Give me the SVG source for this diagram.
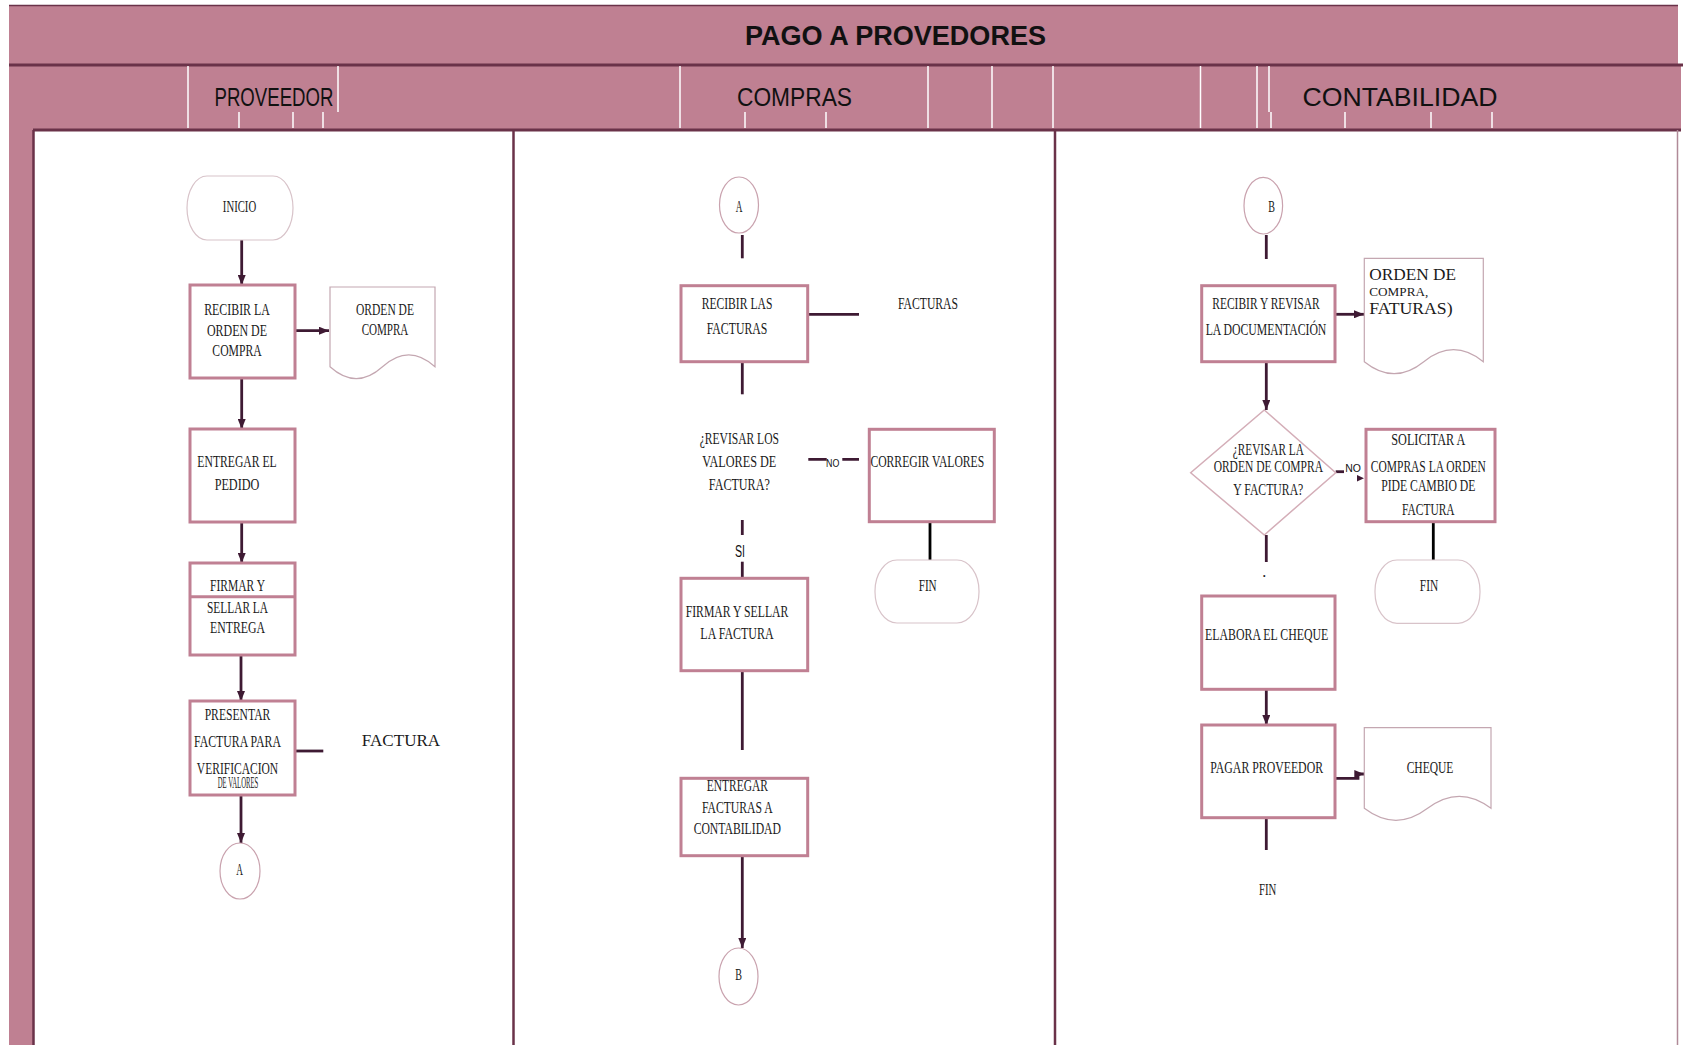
<svg xmlns="http://www.w3.org/2000/svg" width="1684" height="1045" viewBox="0 0 1684 1045">
<style>
.band{fill:#BF8092}
.dk{stroke:#6A3249;fill:none}
.tick{stroke:#fff;stroke-width:1.5}
.proc{fill:#fff;stroke:#C08093;stroke-width:3}
.term{fill:#fff;stroke:#D8C3C9;stroke-width:1.2}
.conn-c{fill:#fff;stroke:#C9A2AE;stroke-width:1.2}
.doc{fill:#fff;stroke:#C4A7B1;stroke-width:1.2}
.dia{fill:#fff;stroke:#D4AEB8;stroke-width:1.5}
.c{fill:none;stroke:#3E1A33;stroke-width:2.8}
.cb{fill:none;stroke:#000;stroke-width:2.8}
.t{font-family:"Liberation Serif","Times New Roman",serif;font-size:16px;fill:#1a1a1a;text-anchor:middle}
.ts{font-family:"Liberation Serif","Times New Roman",serif;fill:#1a1a1a;text-anchor:start}
.s{font-family:"Liberation Sans",Arial,sans-serif;fill:#111;text-anchor:middle}
</style>
<defs>
<marker id="ah" viewBox="0 0 10 8" refX="10" refY="4" markerWidth="10" markerHeight="8" markerUnits="userSpaceOnUse" orient="auto">
<path d="M0,0 L10,4 L0,8 z" fill="#3E1A33"/>
</marker>
</defs>
<rect width="1684" height="1045" fill="#fff"/>
<g id="header">
<rect class="band" x="9" y="5" width="1669" height="60"/>
<rect class="band" x="9" y="65" width="1672" height="65"/>
<rect class="band" x="9" y="130" width="24" height="915"/>
<line class="dk" x1="9" y1="5.5" x2="1678" y2="5.5" stroke-width="1.5"/>
<line class="dk" x1="9" y1="65" x2="1683" y2="65" stroke-width="3"/>
<line class="dk" x1="33" y1="130" x2="1681" y2="130" stroke-width="3"/>
<line class="dk" x1="33.5" y1="130" x2="33.5" y2="1045" stroke-width="2.5"/>
<line class="dk" x1="513.5" y1="130" x2="513.5" y2="1045" stroke-width="2.5"/>
<line class="dk" x1="1055" y1="130" x2="1055" y2="1045" stroke-width="2.5"/>
<line x1="1677.5" y1="130" x2="1677.5" y2="1045" stroke="#B08A98" stroke-width="1.5"/>
<g class="tick">
<line x1="188" y1="66" x2="188" y2="128"/><line x1="680" y1="66" x2="680" y2="128"/>
<line x1="928" y1="66" x2="928" y2="128"/><line x1="992" y1="66" x2="992" y2="128"/>
<line x1="1053" y1="66" x2="1053" y2="128"/><line x1="1200.5" y1="66" x2="1200.5" y2="128"/>
<line x1="1257" y1="66" x2="1257" y2="128"/>
<line x1="338" y1="66" x2="338" y2="112"/><line x1="1269" y1="66" x2="1269" y2="112"/>
<line x1="239" y1="112" x2="239" y2="128"/><line x1="293" y1="112" x2="293" y2="128"/>
<line x1="323" y1="112" x2="323" y2="128"/><line x1="745" y1="112" x2="745" y2="128"/>
<line x1="826" y1="112" x2="826" y2="128"/><line x1="1271" y1="112" x2="1271" y2="128"/>
<line x1="1345" y1="112" x2="1345" y2="128"/><line x1="1431" y1="112" x2="1431" y2="128"/>
<line x1="1492" y1="112" x2="1492" y2="128"/>
</g>
<text class="s" x="895.5" y="45" font-size="27" font-weight="bold" textLength="301" lengthAdjust="spacingAndGlyphs">PAGO A PROVEDORES</text>
<text class="s" x="274" y="106" font-size="26" textLength="119" lengthAdjust="spacingAndGlyphs">PROVEEDOR</text>
<text class="s" x="794.5" y="106" font-size="26" textLength="115" lengthAdjust="spacingAndGlyphs">COMPRAS</text>
<text class="s" x="1400" y="106" font-size="26.5" textLength="195" lengthAdjust="spacingAndGlyphs">CONTABILIDAD</text>
</g>

<g id="connectors">
<path class="c" d="M241.7,235 V285" marker-end="url(#ah)"/>
<path class="c" d="M295,330.7 H329" marker-end="url(#ah)"/>
<path class="c" d="M241.7,378 V429" marker-end="url(#ah)"/>
<path class="c" d="M241.7,522 V563" marker-end="url(#ah)"/>
<path class="c" d="M241,655 V701" marker-end="url(#ah)"/>
<path class="c" d="M295,751 H323.3"/>
<path class="c" d="M241,795 V843" marker-end="url(#ah)"/>
<path class="c" d="M742.3,235 V258.3"/>
<path class="c" d="M807.7,314.3 H859"/>
<path class="c" d="M742.3,361.7 V394.3"/>
<path class="c" d="M808.3,459.3 H826.7 M842.3,459.3 H859"/>
<path class="cb" d="M930,521.7 V561.7"/>
<path class="c" d="M742.3,520 V535"/>
<path class="c" d="M742.3,561.7 V578.3"/>
<path class="c" d="M742.3,670.7 V750"/>
<path class="c" d="M742.3,855.7 V948" marker-end="url(#ah)"/>
<path class="c" d="M1266.3,235 V259"/>
<path class="c" d="M1335,314.3 H1364" marker-end="url(#ah)"/>
<path class="c" d="M1266.3,361.7 V410" marker-end="url(#ah)"/>
<path class="c" d="M1335.7,471.7 H1344" stroke-width="1.5"/>
<path d="M1357,475 L1364,478.3 L1357,481.5 z" fill="#3E1A33"/>
<path class="cb" d="M1433.3,521.7 V561"/>
<path class="c" d="M1266.3,535 V562"/>
<path class="c" d="M1266.3,689.3 V725" marker-end="url(#ah)"/>
<path class="c" d="M1335,778.3 H1358 V774 H1364.3" marker-end="url(#ah)"/>
<path class="c" d="M1266.3,817.7 V850"/>
<text class="s" x="832.7" y="467" font-size="11" textLength="13.3" lengthAdjust="spacingAndGlyphs">NO</text>
<text class="s" x="740" y="557.3" font-size="16" textLength="10" lengthAdjust="spacingAndGlyphs">SI</text>
<text class="s" x="1353" y="471.7" font-size="11" textLength="15.7" lengthAdjust="spacingAndGlyphs">NO</text>
</g>

<g id="inicio">
<rect class="term" x="187" y="176" width="106" height="64" rx="20" ry="32" stroke="#B8949F"/>
<text class="t" x="239.5" y="211.7" font-size="15" textLength="33.3" lengthAdjust="spacingAndGlyphs">INICIO</text>
</g>
<g id="recibir-orden">
<rect class="proc" x="190" y="285" width="105" height="93"/>
<text class="t" x="237" y="315" textLength="65.7" lengthAdjust="spacingAndGlyphs">RECIBIR LA</text>
<text class="t" x="237" y="335.5" textLength="60" lengthAdjust="spacingAndGlyphs">ORDEN DE</text>
<text class="t" x="237" y="356" textLength="49.3" lengthAdjust="spacingAndGlyphs">COMPRA</text>
</g>
<g id="doc-orden-compra">
<path class="doc" d="M330,287 H435 V366.7 Q408.75,343 382.5,366.7 T330,366.7 Z"/>
<text class="t" x="385" y="315" textLength="58" lengthAdjust="spacingAndGlyphs">ORDEN DE</text>
<text class="t" x="385" y="335" textLength="46.7" lengthAdjust="spacingAndGlyphs">COMPRA</text>
</g>
<g id="entregar-pedido">
<rect class="proc" x="190" y="429" width="105" height="93"/>
<text class="t" x="237" y="467" textLength="79.3" lengthAdjust="spacingAndGlyphs">ENTREGAR EL</text>
<text class="t" x="237" y="490" textLength="44.7" lengthAdjust="spacingAndGlyphs">PEDIDO</text>
</g>
<g id="firmar-entrega">
<rect class="proc" x="190" y="563" width="105" height="92"/>
<line x1="190" y1="596.7" x2="295" y2="596.7" stroke="#C08093" stroke-width="3"/>
<text class="t" x="237.5" y="590.7" textLength="55" lengthAdjust="spacingAndGlyphs">FIRMAR Y</text>
<text class="t" x="237.5" y="612.7" textLength="61" lengthAdjust="spacingAndGlyphs">SELLAR LA</text>
<text class="t" x="237.5" y="632.7" textLength="55" lengthAdjust="spacingAndGlyphs">ENTREGA</text>
</g>
<g id="presentar-factura">
<rect class="proc" x="190" y="701" width="105" height="94"/>
<text class="t" x="237.5" y="720" textLength="65.7" lengthAdjust="spacingAndGlyphs">PRESENTAR</text>
<text class="t" x="237.5" y="746.7" textLength="87" lengthAdjust="spacingAndGlyphs">FACTURA PARA</text>
<text class="t" x="237.5" y="773.5" textLength="81.3" lengthAdjust="spacingAndGlyphs">VERIFICACION</text>
<text class="t" x="238" y="788" font-size="6" textLength="40.7" lengthAdjust="spacingAndGlyphs">DE VALORES</text>
</g>
<g id="factura-label">
<text class="t" x="401" y="746" font-size="19" textLength="78.3" lengthAdjust="spacingAndGlyphs">FACTURA</text>
</g>
<g id="conector-a-out">
<ellipse class="conn-c" cx="240" cy="871" rx="20" ry="28"/>
<text class="t" x="239.5" y="875" font-size="13" textLength="6.7" lengthAdjust="spacingAndGlyphs">A</text>
</g>

<g id="conector-a-in">
<ellipse class="conn-c" cx="739" cy="205" rx="19.5" ry="28"/>
<text class="t" x="739" y="211.7" font-size="13" textLength="6.7" lengthAdjust="spacingAndGlyphs">A</text>
</g>
<g id="recibir-facturas">
<rect class="proc" x="681" y="285.7" width="126.7" height="76"/>
<text class="t" x="737" y="309" textLength="70.7" lengthAdjust="spacingAndGlyphs">RECIBIR LAS</text>
<text class="t" x="737" y="334.3" textLength="60.7" lengthAdjust="spacingAndGlyphs">FACTURAS</text>
</g>
<g id="facturas-label">
<text class="t" x="928" y="309" textLength="60" lengthAdjust="spacingAndGlyphs">FACTURAS</text>
</g>
<g id="decision-valores">
<text class="t" x="739.3" y="444" textLength="79.3" lengthAdjust="spacingAndGlyphs">¿REVISAR LOS</text>
<text class="t" x="739.3" y="466.7" textLength="74" lengthAdjust="spacingAndGlyphs">VALORES DE</text>
<text class="t" x="739.3" y="490" textLength="61" lengthAdjust="spacingAndGlyphs">FACTURA?</text>
</g>
<g id="corregir-valores">
<rect class="proc" x="869.3" y="429.3" width="125" height="92.4"/>
<text class="t" x="927.3" y="466.7" textLength="113.7" lengthAdjust="spacingAndGlyphs">CORREGIR VALORES</text>
</g>
<g id="fin-compras">
<rect class="term" x="875" y="560" width="104" height="63" rx="22" ry="31" stroke="#E3D3D7"/>
<text class="t" x="927.7" y="590.7" font-size="15" textLength="18" lengthAdjust="spacingAndGlyphs">FIN</text>
</g>
<g id="firmar-factura">
<rect class="proc" x="681" y="578.3" width="126.7" height="92.4"/>
<text class="t" x="737" y="617.3" textLength="102.7" lengthAdjust="spacingAndGlyphs">FIRMAR Y SELLAR</text>
<text class="t" x="737" y="639.3" textLength="73.3" lengthAdjust="spacingAndGlyphs">LA FACTURA</text>
</g>
<g id="entregar-contabilidad">
<rect class="proc" x="681" y="778.3" width="126.7" height="77.4"/>
<text class="t" x="737.3" y="790.7" textLength="61" lengthAdjust="spacingAndGlyphs">ENTREGAR</text>
<text class="t" x="737.3" y="812.7" textLength="70.7" lengthAdjust="spacingAndGlyphs">FACTURAS A</text>
<text class="t" x="737.3" y="834" textLength="87.3" lengthAdjust="spacingAndGlyphs">CONTABILIDAD</text>
</g>
<g id="conector-b-out">
<ellipse class="conn-c" cx="738.5" cy="976.5" rx="19.5" ry="28.5"/>
<text class="t" x="738.5" y="980" font-size="13" textLength="6.7" lengthAdjust="spacingAndGlyphs">B</text>
</g>

<g id="conector-b-in">
<ellipse class="conn-c" cx="1263.3" cy="205.7" rx="19.3" ry="28.3"/>
<text class="t" x="1271.7" y="211.7" font-size="13" textLength="6.7" lengthAdjust="spacingAndGlyphs">B</text>
</g>
<g id="recibir-documentacion">
<rect class="proc" x="1201.7" y="285.7" width="133.3" height="76"/>
<text class="t" x="1266" y="309" textLength="107.3" lengthAdjust="spacingAndGlyphs">RECIBIR Y REVISAR</text>
<text class="t" x="1266" y="335" textLength="120.7" lengthAdjust="spacingAndGlyphs">LA DOCUMENTACIÓN</text>
</g>
<g id="doc-orden-facturas">
<path class="doc" d="M1364.3,258.3 H1483.3 V361.7 Q1453.5,337.7 1423.8,361.7 T1364.3,361.7 Z"/>
<text class="ts" x="1369.3" y="280" font-size="17" textLength="86.7" lengthAdjust="spacingAndGlyphs">ORDEN DE</text>
<text class="ts" x="1369.3" y="295.7" font-size="12" textLength="59" lengthAdjust="spacingAndGlyphs">COMPRA,</text>
<text class="ts" x="1369.3" y="314" font-size="17" textLength="83.3" lengthAdjust="spacingAndGlyphs">FATURAS)</text>
</g>
<g id="decision-orden">
<path class="dia" d="M1264.3,410 L1335.7,472.7 L1264.3,535 L1190.7,472.7 Z"/>
<text class="t" x="1268.3" y="455" font-size="14" textLength="71" lengthAdjust="spacingAndGlyphs">¿REVISAR LA</text>
<text class="t" x="1268.3" y="471.7" font-size="14" textLength="109.3" lengthAdjust="spacingAndGlyphs">ORDEN DE COMPRA</text>
<text class="t" x="1268.3" y="495" font-size="14" textLength="70" lengthAdjust="spacingAndGlyphs">Y FACTURA?</text>
</g>
<g id="solicitar-compras">
<rect class="proc" x="1366" y="429.3" width="129" height="92.4"/>
<text class="t" x="1428.3" y="445" textLength="74" lengthAdjust="spacingAndGlyphs">SOLICITAR A</text>
<text class="t" x="1428.3" y="471.7" textLength="115" lengthAdjust="spacingAndGlyphs">COMPRAS LA ORDEN</text>
<text class="t" x="1428.3" y="491" textLength="94.3" lengthAdjust="spacingAndGlyphs">PIDE CAMBIO DE</text>
<text class="t" x="1428.3" y="515" textLength="52.7" lengthAdjust="spacingAndGlyphs">FACTURA</text>
</g>
<g id="fin-contabilidad-no">
<rect class="term" x="1375" y="560" width="105" height="63.3" rx="22" ry="31" stroke="#E3D3D7"/>
<text class="t" x="1429" y="590.7" font-size="15" textLength="18.3" lengthAdjust="spacingAndGlyphs">FIN</text>
</g>
<g id="punto">
<text class="t" x="1264.3" y="577" font-size="8" fill="#888">.</text>
</g>
<g id="elabora-cheque">
<rect class="proc" x="1201.7" y="596" width="133.3" height="93.3"/>
<text class="t" x="1266.7" y="640" textLength="123.3" lengthAdjust="spacingAndGlyphs">ELABORA EL CHEQUE</text>
</g>
<g id="pagar-proveedor">
<rect class="proc" x="1201.7" y="725" width="133.3" height="92.7"/>
<text class="t" x="1266.7" y="773.3" textLength="112.7" lengthAdjust="spacingAndGlyphs">PAGAR PROVEEDOR</text>
</g>
<g id="doc-cheque">
<path class="doc" d="M1364.3,727.7 H1491 V808.3 Q1459.3,784.3 1427.6,808.3 T1364.3,808.3 Z"/>
<text class="t" x="1430" y="773.3" textLength="46.7" lengthAdjust="spacingAndGlyphs">CHEQUE</text>
</g>
<g id="fin-final">
<text class="t" x="1267.7" y="895" font-size="15" textLength="17.3" lengthAdjust="spacingAndGlyphs">FIN</text>
</g>
</svg>
